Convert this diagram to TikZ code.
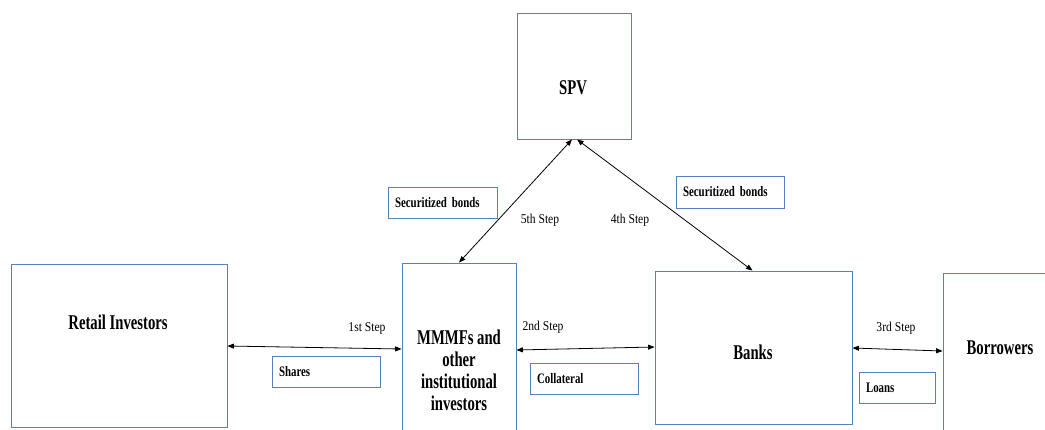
\documentclass[tikz,border=0pt]{standalone}
\usepackage{fontspec}
\setmainfont{Liberation Serif}
\newfontfamily\bigf[FakeStretch=0.7]{Liberation Serif}
\newfontfamily\smf[FakeStretch=0.75]{Liberation Serif}
\newfontfamily\stf[FakeStretch=0.86]{Liberation Serif}
\usetikzlibrary{arrows.meta}
\definecolor{boxblue}{RGB}{84,130,187}
\begin{document}
\begin{tikzpicture}[x=1pt,y=-1pt,
  box/.style={draw=boxblue, line width=0.85pt, inner sep=0pt},
  bigtxt/.style={font=\bigf\bfseries\fontsize{21}{22}\selectfont, inner sep=0pt, align=center},
  lbl/.style={draw=boxblue, line width=0.85pt, inner xsep=7pt, inner ysep=0pt,
    font=\smf\bfseries\fontsize{14.5}{15}\selectfont, align=left},
  steptxt/.style={font=\stf\fontsize{13.5}{14}\selectfont, inner sep=0pt},
  conn/.style={line width=0.8pt, {Triangle[length=6.5pt,width=5pt]}-{Triangle[length=6.5pt,width=5pt]}}
]
\useasboundingbox (0,0) rectangle (1045,429);
\clip (0,0) rectangle (1045,429);

% main boxes
\node[box, minimum width=216, minimum height=163] (retail) at (119,345.5) {};
\node[box, minimum width=114, minimum height=126] (spv) at (574,76) {};
\node[box, minimum width=114, minimum height=177] (mmmf) at (459,351.5) {};
\node[box, minimum width=197, minimum height=153] (banks) at (753.5,347.5) {};
\node[box, minimum width=117, minimum height=167] (borrow) at (1001.5,356.5) {};

% main texts
\node[bigtxt] (retailtxt) at (118,322) {Retail Investors};
\node[bigtxt] (spvtxt) at (573,88) {SPV};
\node[bigtxt, anchor=north] (mmmftxt) at (459,330) {MMMFs and\\[0pt]other\\institutional\\investors};
\node[bigtxt] (bankstxt) at (753,352) {Banks};
\node[bigtxt] (borrowtxt) at (1000,348) {Borrowers};

% label boxes
\node[lbl, text width=94, minimum height=31] (shares) at (326,371.5) {Shares};
\node[lbl, text width=94, minimum height=31] (coll) at (584,378.5) {Collateral};
\node[lbl, text width=62, minimum height=31] (loans) at (897,387.5) {Loans};
\node[lbl, text width=95, minimum height=31] (secl) at (442.5,202.5) {Securitized bonds};
\node[lbl, text width=94, minimum height=32] (secr) at (730,192) {Securitized bonds};

% step labels
\node[steptxt] (s1) at (367,328) {1st Step};
\node[steptxt] (s2) at (543,327) {2nd Step};
\node[steptxt] (s3) at (896,328) {3rd Step};
\node[steptxt] (s5) at (540,220) {5th Step};
\node[steptxt] (s4) at (630,220) {4th Step};

% connectors
\draw[conn] ([yshift=-0.5pt]retail.east) -- ([yshift=2.5pt]mmmf.west);
\draw[conn] ([yshift=1.5pt]mmmf.east) -- ([yshift=0.5pt]banks.west);
\draw[conn] ([yshift=-0.5pt]banks.east) -- ([yshift=5.5pt]borrow.west);
\draw[conn] ([xshift=-2pt]spv.south) -- (mmmf.north);
\draw[conn] ([xshift=3pt]spv.south) -- ([xshift=-1pt]banks.north);
\end{tikzpicture}
\end{document}
